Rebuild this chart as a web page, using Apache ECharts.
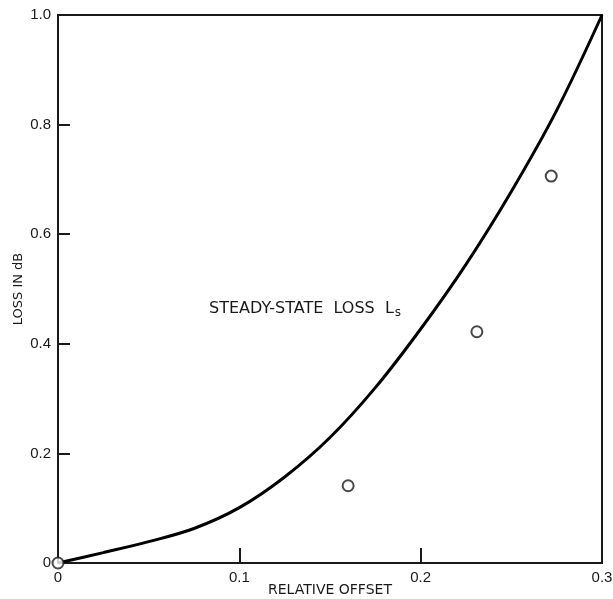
<!DOCTYPE html>
<html>
<head>
<meta charset="utf-8">
<script src="https://cdn.jsdelivr.net/npm/echarts@6/dist/echarts.min.js"></script>
<style>
  html, body { margin: 0; padding: 0; background: #fff; }
  #main { width: 613px; height: 599px; }
</style>
</head>
<body>
<div id="main"></div>
<script>
// curve: relative offset vs steady-state loss (dB)
const curveOffset = [0, 0.025, 0.05, 0.075, 0.1, 0.125, 0.15, 0.175, 0.2, 0.225, 0.25, 0.275, 0.3]
const curveLoss = [0, 0.019, 0.039, 0.063, 0.101, 0.157, 0.229, 0.32, 0.427, 0.545, 0.678, 0.826, 1.0]
// measured points (open circles)
const measOffset = [0, 0.16, 0.231, 0.272]
const measLoss = [0, 0.141, 0.422, 0.706]
const xTicks = [0, 0.1, 0.2, 0.3]
const yTicks = [0, 0.2, 0.4, 0.6, 0.8, 1.0]

const fmt = v => (v === 0 ? '0' : v.toFixed(1))
const ink = '#1a1a1a'
const font = 'Liberation Sans, Arial, sans-serif'

const chart = echarts.init(document.getElementById('main'))
chart.setOption({
  animation: false,
  grid: {
    left: 58,
    right: 11,
    top: 15,
    bottom: 36,
    outerBoundsMode: 'none',
    show: true,
    borderColor: ink,
    borderWidth: 2
  },
  xAxis: {
    type: 'value',
    min: xTicks[0],
    max: xTicks[xTicks.length - 1],
    interval: 0.1,
    name: 'RELATIVE OFFSET',
    nameLocation: 'middle',
    nameGap: 20,
    nameMoveOverlap: false,
    nameTextStyle: { color: ink, fontSize: 14, fontFamily: 'DejaVu Sans' },
    axisLine: { lineStyle: { color: ink, width: 2 } },
    axisTick: { inside: true, length: 15, lineStyle: { color: ink, width: 2 } },
    axisLabel: { color: ink, fontSize: 15, fontFamily: font, margin: 7, formatter: fmt },
    splitLine: { show: false }
  },
  yAxis: {
    type: 'value',
    min: yTicks[0],
    max: yTicks[yTicks.length - 1],
    interval: 0.2,
    name: 'LOSS IN dB',
    nameLocation: 'middle',
    nameGap: 33,
    nameMoveOverlap: false,
    nameTextStyle: { color: ink, fontSize: 13, fontFamily: 'DejaVu Sans' },
    axisLine: { lineStyle: { color: ink, width: 2 } },
    axisTick: { inside: true, length: 12, lineStyle: { color: ink, width: 2 } },
    axisLabel: { color: ink, fontSize: 15, fontFamily: font, margin: 7, formatter: fmt },
    splitLine: { show: false }
  },
  graphic: [
    {
      type: 'text',
      left: 209,
      top: 298,
      style: {
        text: '{a|STEADY-STATE  LOSS  L}{s|s}',
        rich: {
          a: { fontSize: 16, fontFamily: 'DejaVu Sans', fill: ink, lineHeight: 20 },
          s: { fontSize: 12, fontFamily: 'DejaVu Sans', fill: ink, padding: [9, 0, 0, 1], lineHeight: 20 }
        }
      }
    }
  ],
  series: [
    {
      name: 'steady-state loss',
      type: 'line',
      data: curveOffset.map((x, i) => [x, curveLoss[i]]),
      smooth: 0.35,
      showSymbol: false,
      lineStyle: { color: '#000', width: 3 },
      z: 3
    },
    {
      name: 'measured',
      type: 'scatter',
      data: measOffset.map((x, i) => [x, measLoss[i]]),
      symbol: 'circle',
      symbolSize: 11,
      itemStyle: { color: '#fff', borderColor: ink, borderWidth: 2 },
      clip: false,
      z: 5
    }
  ]
})
</script>
</body>
</html>
